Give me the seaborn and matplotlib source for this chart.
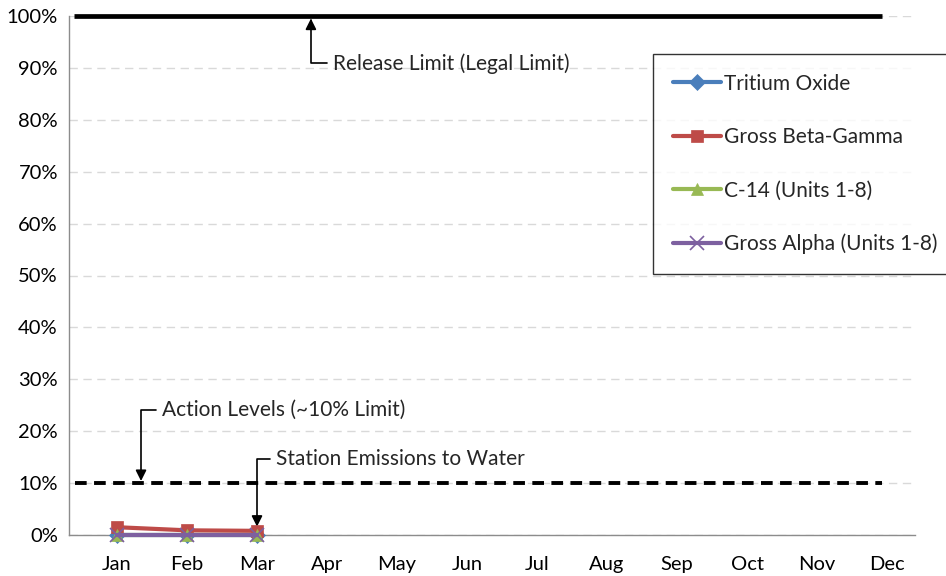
import matplotlib
matplotlib.use("Agg")
import matplotlib.pyplot as plt
import seaborn as sns
import pandas as pd
from matplotlib.ticker import PercentFormatter

months = ["Jan", "Feb", "Mar", "Apr", "May", "Jun", "Jul", "Aug", "Sep", "Oct", "Nov", "Dec"]
measured = ["Jan", "Feb", "Mar"]
tritium_oxide = [0.0, 0.0, 0.0]
gross_beta_gamma = [0.015, 0.009, 0.008]
c14 = [0.0, 0.0, 0.0]
gross_alpha = [0.0, 0.0, 0.0]
release_limit = 1.0
action_level = 0.10

series = [
    ("Tritium Oxide", tritium_oxide, "#4a7ebb", "D"),
    ("Gross Beta-Gamma", gross_beta_gamma, "#be4b48", "s"),
    ("C-14 (Units 1-8)", c14, "#98b954", "^"),
    ("Gross Alpha (Units 1-8)", gross_alpha, "#7d60a0", "x"),
]

sns.set_style("white")
plt.rcParams["font.family"] = ["Lato", "DejaVu Sans"]

fig = plt.figure(figsize=(9.46, 5.76), dpi=100)
ax = fig.add_axes([69 / 946, 41 / 576, 846 / 946, 519 / 576])

x_pos = {m: i for i, m in enumerate(months)}

# limit lines
ax.plot([-0.62, 10.93], [release_limit, release_limit], color="black", lw=3.4,
        solid_capstyle="butt", zorder=3, clip_on=False)
ax.plot([-0.6, 10.93], [action_level, action_level], color="black", lw=2.8,
        ls=(0, (3.0, 1.9)), zorder=3)

for name, vals, col, mk in series:
    df = pd.DataFrame({"x": [x_pos[m] for m in measured], "y": vals})
    sns.lineplot(data=df, x="x", y="y", ax=ax, color=col, lw=3, marker=mk,
                 markersize=8 if mk != "x" else 10, markeredgecolor=col,
                 markeredgewidth=1.2 if mk == "x" else 0.5, label=name, zorder=4,
                 clip_on=False)

ax.set_xlim(-0.686, 11.4)
ax.set_ylim(0, 1.0)
ax.set_xticks(range(len(months)))
ax.set_xticklabels(months)
ax.set_yticks([i / 10 for i in range(11)])
ax.yaxis.set_major_formatter(PercentFormatter(1.0, decimals=0))
ax.tick_params(axis="both", labelsize=14.5, length=0, colors="black")
ax.tick_params(axis="x", pad=15)
ax.tick_params(axis="y", pad=8)
ax.set_xlabel("")
ax.set_ylabel("")
ax.yaxis.grid(True, color="#d9d9d9", ls=(0, (6, 4)), lw=1)
ax.set_axisbelow(True)
for s in ["top", "right"]:
    ax.spines[s].set_visible(False)
for s in ["left", "bottom"]:
    ax.spines[s].set_color("#8c8c8c")
    ax.spines[s].set_linewidth(1)

arrow = dict(arrowstyle="-|>", color="black", lw=1.2, mutation_scale=16,
             connectionstyle="angle,angleA=180,angleB=90,rad=0", shrinkA=2, shrinkB=0)
ax.annotate("Release Limit (Legal Limit)", xy=(2.77, 0.995), xytext=(3.09, 0.909),
            fontsize=15, ha="left", va="center", arrowprops=arrow)
ax.annotate("Action Levels (~10% Limit)", xy=(0.343, 0.104), xytext=(0.64, 0.241),
            fontsize=15, ha="left", va="center", arrowprops=arrow)
ax.annotate("Station Emissions to Water", xy=(2.0, 0.016), xytext=(2.27, 0.146),
            fontsize=15, ha="left", va="center", arrowprops=arrow)

leg = ax.legend(loc="upper left", bbox_to_anchor=(653 / 946, 1 - 54 / 576), bbox_transform=fig.transFigure,
                fontsize=15, frameon=True, fancybox=False, labelspacing=1.6, handlelength=2.3,
                handletextpad=0.15, borderpad=0.95, borderaxespad=0)
leg.get_frame().set_edgecolor("black")
leg.get_frame().set_linewidth(1)

fig.savefig("out.png", dpi=100)
